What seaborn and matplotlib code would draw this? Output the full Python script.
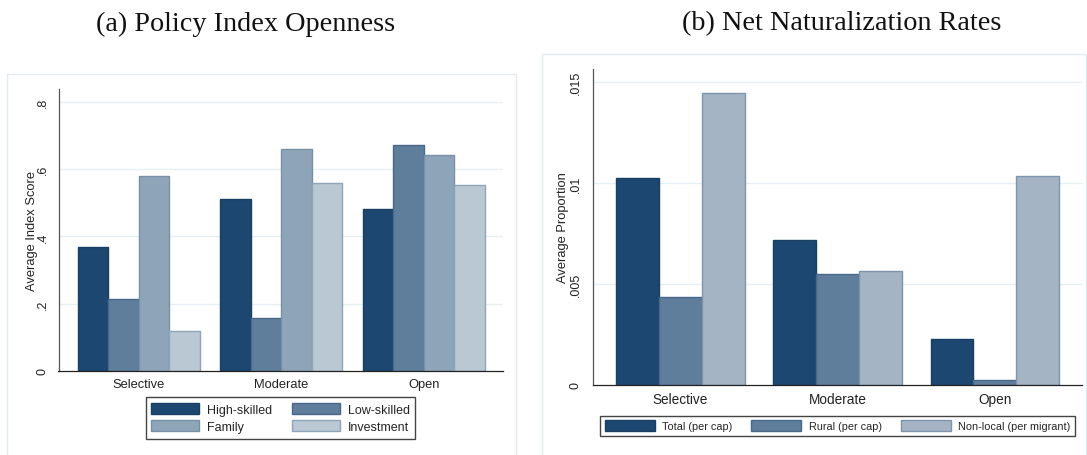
import matplotlib
matplotlib.use("Agg")
import matplotlib.pyplot as plt
from matplotlib.patches import Rectangle
from matplotlib.ticker import FixedLocator, FixedFormatter
import pandas as pd
import seaborn as sns

# ---- data ----
categories = ["Selective", "Moderate", "Open"]

policy_series = ["High-skilled", "Low-skilled", "Family", "Investment"]
high_skilled = [0.367, 0.510, 0.481]
low_skilled = [0.214, 0.157, 0.671]
family = [0.580, 0.661, 0.643]
investment = [0.120, 0.558, 0.552]

nat_series = ["Total (per cap)", "Rural (per cap)", "Non-local (per migrant)"]
total_per_cap = [0.01027, 0.00717, 0.00225]
rural_per_cap = [0.00436, 0.00550, 0.00025]
nonlocal_per_migrant = [0.01449, 0.00566, 0.01037]

policy_ticks = [0, 0.2, 0.4, 0.6, 0.8]
policy_ticklabels = ["0", ".2", ".4", ".6", ".8"]
nat_ticks = [0, 0.005, 0.01, 0.015]
nat_ticklabels = ["0", ".005", ".01", ".015"]

# ---- styling ----
sns.set_theme(style="white")
plt.rcParams["font.family"] = ["Liberation Sans", "DejaVu Sans"]

policy_fill = ["#1c4770", "#5e7e9b", "#8ea4b9", "#bac8d3"]
policy_edge = ["#193f64", "#48698a", "#7590a8", "#8ea4b9"]
nat_fill = ["#1c4770", "#5e7e9b", "#a4b4c5"]
nat_edge = ["#193f64", "#48698a", "#7e94ad"]

W, H = 1087, 456
fig = plt.figure(figsize=(W / 100, H / 100), dpi=100)
fig.patch.set_facecolor("white")


def fig_rect(x0, y0, x1, y1):
    """Pixel box (top-left origin) -> figure fraction [l, b, w, h]."""
    return [x0 / W, 1 - y1 / H, (x1 - x0) / W, (y1 - y0) / H]


# faint panel frames
for (x0, y0, x1, y1) in [(7, 75, 516, 470), (541.5, 55, 1085.5, 470)]:
    fig.add_artist(Rectangle((x0 / W, 1 - y1 / H), (x1 - x0) / W, (y1 - y0) / H,
                             transform=fig.transFigure, fill=False,
                             edgecolor="#e4eaee", linewidth=1.0))


def draw_panel(ax, series_names, series_values, fills, edges, width,
               xlim, ylim, ticks, ticklabels, ylabel, ylabel_x, xlabelsize,
               ypad):
    rows = []
    for name, vals in zip(series_names, series_values):
        for cat, v in zip(categories, vals):
            rows.append({"category": cat, "series": name, "value": v})
    df = pd.DataFrame(rows)
    sns.barplot(data=df, x="category", y="value", hue="series",
                order=categories, hue_order=series_names,
                palette=fills, saturation=1, width=width,
                linewidth=1.0, ax=ax, errorbar=None)
    for cont, ec in zip(ax.containers, edges):
        for bar in cont:
            bar.set_edgecolor(ec)
    if ax.legend_ is not None:
        ax.legend_.remove()
    ax.set_xlim(*xlim)
    ax.set_ylim(*ylim)
    ax.yaxis.set_major_locator(FixedLocator(ticks))
    ax.yaxis.set_major_formatter(FixedFormatter(ticklabels))
    for t in ticks[1:]:
        ax.axhline(t, color="#e6eff1", linewidth=1.0, zorder=0)
    ax.set_axisbelow(True)
    ax.set_xlabel("")
    ax.set_ylabel(ylabel, fontsize=9.3, color="#222222")
    ax.yaxis.set_label_coords(ylabel_x, 0.5)
    for s in ["top", "right"]:
        ax.spines[s].set_visible(False)
    ax.spines["left"].set_color("#555555")
    ax.spines["bottom"].set_color("#222222")
    ax.spines["left"].set_linewidth(0.9)
    ax.spines["bottom"].set_linewidth(0.9)
    ax.tick_params(axis="y", direction="out", length=5, width=0.8,
                   color="#555555", labelsize=9, labelcolor="#222222", pad=ypad)
    ax.tick_params(axis="x", length=0, labelsize=xlabelsize,
                   labelcolor="#222222", pad=5)
    for lab in ax.get_yticklabels():
        lab.set_rotation(90)
        lab.set_va("center")
    ax.set_facecolor("white")
    return [cont.patches[0] for cont in ax.containers]


# ---- panel (a) ----
ax1 = fig.add_axes(fig_rect(58.5, 90, 503, 372))
h1 = draw_panel(ax1, policy_series, [high_skilled, low_skilled, family, investment],
                policy_fill, policy_edge, 0.855,
                (-0.562, 2.557), (0, 0.838), policy_ticks, policy_ticklabels,
                "Average Index Score", -0.046, 9.3, 2)
# legend fills column-wise; order entries so rows read High/Low, Family/Investment
order = [0, 2, 1, 3]
leg1 = fig.legend([h1[i] for i in order], [policy_series[i] for i in order],
                  loc="center", bbox_to_anchor=(280.5 / W, 1 - 419 / H), ncol=2,
                  fontsize=9, frameon=True, fancybox=False, framealpha=1,
                  edgecolor="#444444", handlelength=3.8, handleheight=1.0,
                  handletextpad=0.65, columnspacing=1.6, labelspacing=0.35,
                  borderpad=0.45, borderaxespad=0)
leg1.get_frame().set_linewidth(1.0)

# ---- panel (b) ----
ax2 = fig.add_axes(fig_rect(593.3, 70, 1081.5, 385.7))
h2 = draw_panel(ax2, nat_series, [total_per_cap, rural_per_cap, nonlocal_per_migrant],
                nat_fill, nat_edge, 0.817,
                (-0.553, 2.551), (0, 0.01566), nat_ticks, nat_ticklabels,
                "Average Proportion", -0.050, 9.8, 3.5)
leg2 = fig.legend(h2, nat_series, loc="center",
                  bbox_to_anchor=(837.5 / W, 1 - 426.7 / H), ncol=3,
                  fontsize=7.8, frameon=True, fancybox=False, framealpha=1,
                  edgecolor="#444444", handlelength=4.6, handleheight=1.23,
                  handletextpad=0.7, columnspacing=1.75,
                  borderpad=0.4, borderaxespad=0)
leg2.get_frame().set_linewidth(1.0)

# ---- panel titles ----
title_font = dict(family=["Liberation Serif", "DejaVu Serif"], fontsize=20.3,
                  color="#111111", ha="center", va="center")
fig.text(245.5 / W, 1 - 24 / H, "(a) Policy Index Openness", **title_font)
fig.text(841.5 / W, 1 - 24 / H, "(b) Net Naturalization Rates", **title_font)

fig.savefig("out.png", dpi=100, facecolor="white")
